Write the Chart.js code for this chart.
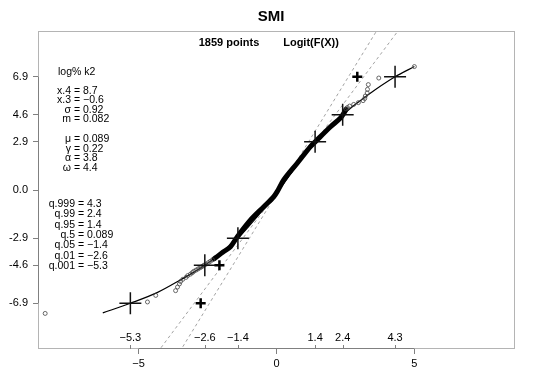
<!DOCTYPE html>
<html>
<head>
<meta charset="utf-8">
<script src="https://cdn.jsdelivr.net/npm/chart.js@4/dist/chart.umd.min.js"></script>
<style>
html,body{margin:0;padding:0;background:#fff;}
#wrap{width:533px;height:378px;position:relative;}
</style>
</head>
<body>
<div id="wrap"><canvas id="c"></canvas></div>
<script>
// ---- data ----
const titleText = 'SMI';
const subLeft = '1859 points';
const subRight = 'Logit(F(X))';

const xTickVals = [-5, 0, 5];
const xTickLabels = ['\u22125', '0', '5'];
const yTickVals = [-6.907, -4.595, -2.944, 0, 2.944, 4.595, 6.907];
const yTickLabels = ['-6.9', '-4.6', '-2.9', '0.0', '2.9', '4.6', '6.9'];

// quantile markers (big crosses) and their inner x labels
const quantX = [-5.3, -2.6, -1.4, 1.4, 2.4, 4.3];
const quantY = [-6.907, -4.595, -2.944, 2.944, 4.595, 6.907];
const quantLabels = ['\u22125.3', '\u22122.6', '\u22121.4', '1.4', '2.4', '4.3'];

// small bold crosses
const smallPlusX = [-2.75, -2.07, 2.93];
const smallPlusY = [-6.907, -4.595, 6.907];

// fitted curve
const fitX = [-6.30, -5.30, -4.33, -3.50, -2.60, -2.00, -1.40, -0.70, 0.089, 0.75, 1.40, 1.90, 2.40, 3.30, 4.30, 5.00];
const fitY = [-7.50, -6.907, -6.26, -5.50, -4.595, -3.82, -2.944, -1.62, 0.00, 1.55, 2.944, 3.82, 4.595, 5.78, 6.907, 7.53];

// tail observations (open circles)
const tailX = [-8.39, -4.68, -4.38, -3.66, -3.59, -3.52, -3.48, -3.40, -3.28, -3.22, -3.12, -3.05, -3.00, -2.92, -2.85, -2.78, -2.72, -2.66, -2.62, -2.55, -2.47, -2.40, -2.32,
               2.52, 2.57, 2.65, 2.80, 2.97, 3.14, 3.20, 3.22, 3.29, 3.30, 3.33, 3.71, 5.00];
const tailY = [-7.53, -6.83, -6.43, -6.14, -5.92, -5.73, -5.58, -5.45, -5.33, -5.22, -5.13, -5.04, -4.96, -4.89, -4.82, -4.75, -4.69, -4.63, -4.58, -4.52, -4.43, -4.35, -4.26,
               4.95, 5.03, 5.12, 5.22, 5.33, 5.45, 5.58, 5.73, 5.92, 6.14, 6.43, 6.83, 7.53];

// dense central observations (drawn as a thick band)
const bandX = [-2.26, -2.20, -1.95, -1.67, -1.42, -0.94, -0.46, -0.10, 0.025, 0.26, 0.75, 1.23, 1.47, 1.96, 2.32, 2.45, 2.52];
const bandY = [-4.19, -4.12, -3.80, -3.46, -2.85, -1.83, -1.02, -0.41, -0.10, 0.61, 1.63, 2.64, 3.05, 3.86, 4.39, 4.70, 4.92];

// reference dashed lines
const dashAX = [-4.58, 4.76];
const dashAY = [-10.5, 10.5];
const dashBX = [-3.74, 3.92];
const dashBY = [-10.5, 10.5];

// text blocks
const block1Head = 'log% k2';
const block1Names = ['x.4', 'x.3', '\u03c3', 'm', '\u03bc', '\u03b3', '\u03b1', '\u03c9'];
const block1Vals = ['8.7', '\u22120.6', '0.92', '0.082', '0.089', '0.22', '3.8', '4.4'];
const block2Names = ['q.999', 'q.99', 'q.95', 'q.5', 'q.05', 'q.01', 'q.001'];
const block2Vals = ['4.3', '2.4', '1.4', '0.089', '\u22121.4', '\u22122.6', '\u22125.3'];

// ---- build ----
const pts = (xs, ys) => xs.map((x, i) => ({x: x, y: ys[i]}));
const FONT = '"Liberation Sans", Arial, Helvetica, sans-serif';

const textPlugin = {
  id: 'texts',
  afterDraw(chart) {
    const ctx = chart.ctx;
    const a = chart.chartArea;
    const xs = chart.scales.x, ys = chart.scales.y;
    ctx.save();
    // box
    ctx.strokeStyle = '#b4b4b4';
    ctx.lineWidth = 1;
    ctx.strokeRect(a.left + 0.5, a.top + 0.5, a.right - a.left - 1, a.bottom - a.top - 1);
    // axis lines spanning the ticks
    ctx.strokeStyle = '#808080';
    ctx.beginPath();
    const yt = ys.getPixelForValue(yTickVals[yTickVals.length - 1]);
    const yb = ys.getPixelForValue(yTickVals[0]);
    ctx.moveTo(a.left + 0.5, yt); ctx.lineTo(a.left + 0.5, yb);
    const xl = xs.getPixelForValue(xTickVals[0]);
    const xr = xs.getPixelForValue(xTickVals[xTickVals.length - 1]);
    ctx.moveTo(xl, a.bottom - 0.5); ctx.lineTo(xr, a.bottom - 0.5);
    // inner quantile ticks
    quantX.forEach(v => {
      const p = Math.round(xs.getPixelForValue(v)) + 0.5;
      ctx.moveTo(p, a.bottom); ctx.lineTo(p, a.bottom - 4);
    });
    ctx.stroke();

    ctx.fillStyle = '#000';
    ctx.textBaseline = 'middle';
    // title
    ctx.font = 'bold 15px ' + FONT;
    ctx.textAlign = 'center';
    ctx.fillText(titleText, 271, 17);
    ctx.font = 'bold 11px ' + FONT;
    ctx.fillText(subLeft, 229, 43);
    ctx.fillText(subRight, 311, 43);
    // inner quantile labels
    ctx.font = '11px ' + FONT;
    quantX.forEach((v, i) => {
      ctx.fillText(quantLabels[i], xs.getPixelForValue(v), a.bottom - 11);
    });
    // block 1
    ctx.font = '10.5px ' + FONT;
    ctx.textAlign = 'left';
    ctx.fillText(block1Head, 58, 72);
    const b1y = [91, 100.5, 110, 119.5, 139.5, 149, 158.5, 168];
    const eq1 = 77;
    const gap = 6;
    block1Names.forEach((n, i) => {
      ctx.textAlign = 'right';
      ctx.fillText(n, eq1 - gap, b1y[i]);
      ctx.textAlign = 'center';
      ctx.fillText('=', eq1, b1y[i]);
      ctx.textAlign = 'left';
      ctx.fillText(block1Vals[i], eq1 + gap, b1y[i]);
    });
    // block 2
    const eq2 = 81;
    block2Names.forEach((n, i) => {
      const y = 204 + i * 10.4;
      ctx.textAlign = 'right';
      ctx.fillText(n, eq2 - gap, y);
      ctx.textAlign = 'center';
      ctx.fillText('=', eq2, y);
      ctx.textAlign = 'left';
      ctx.fillText(block2Vals[i], eq2 + gap, y);
    });
    ctx.restore();
  }
};

new Chart(document.getElementById('c'), {
  type: 'scatter',
  data: {
    datasets: [
      { label: 'q', data: pts(quantX, quantY), pointStyle: 'cross', pointRadius: 11, pointBorderWidth: 1.5,
        borderColor: '#111', backgroundColor: '#111', showLine: false },
      { label: 'sp', data: pts(smallPlusX, smallPlusY), pointStyle: 'cross', pointRadius: 5, pointBorderWidth: 2.5,
        borderColor: '#000', backgroundColor: '#000', showLine: false },
      { label: 'tail', data: pts(tailX, tailY), pointStyle: 'circle', pointRadius: 2, pointBorderWidth: 0.8,
        borderColor: '#444', backgroundColor: 'rgba(0,0,0,0)', showLine: false },
      { label: 'fit', data: pts(fitX, fitY), showLine: true, borderColor: '#000', borderWidth: 1.2,
        pointRadius: 0, cubicInterpolationMode: 'monotone', fill: false },
      { label: 'band', data: pts(bandX, bandY), showLine: true, borderColor: '#000', borderWidth: 5,
        borderCapStyle: 'round', borderJoinStyle: 'round', pointRadius: 0, tension: 0.3, fill: false },
      { label: 'dA', data: pts(dashAX, dashAY), showLine: true, borderColor: '#8a8a8a', borderWidth: 0.8,
        borderDash: [3, 3], pointRadius: 0, clip: 0 },
      { label: 'dB', data: pts(dashBX, dashBY), showLine: true, borderColor: '#8a8a8a', borderWidth: 0.8,
        borderDash: [3, 3], pointRadius: 0, clip: 0 }
    ]
  },
  options: {
    responsive: true,
    maintainAspectRatio: false,
    animation: false,
    devicePixelRatio: 1,
    layout: { padding: { left: 0, right: 18, top: 31, bottom: 0 } },
    plugins: { legend: { display: false }, tooltip: { enabled: false }, title: { display: false } },
    scales: {
      x: {
        type: 'linear', min: -8.65, max: 8.65,
        afterBuildTicks: s => { s.ticks = xTickVals.map(v => ({value: v})); },
        afterFit: s => { s.height = 29; },
        ticks: { callback: (v) => xTickLabels[xTickVals.indexOf(v)], color: '#000',
                 font: { family: FONT, size: 11 }, padding: 3, maxRotation: 0, autoSkip: false },
        grid: { display: true, drawOnChartArea: false, drawTicks: true, tickLength: 5, color: '#808080' },
        border: { display: false }
      },
      y: {
        type: 'linear', min: -9.7, max: 9.7,
        afterBuildTicks: s => { s.ticks = yTickVals.map(v => ({value: v})); },
        afterFit: s => { s.width = 38; },
        ticks: { callback: (v) => yTickLabels[yTickVals.indexOf(v)], color: '#000',
                 font: { family: FONT, size: 11 }, padding: 5, autoSkip: false },
        grid: { display: true, drawOnChartArea: false, drawTicks: true, tickLength: 5, color: '#808080' },
        border: { display: false }
      }
    }
  },
  plugins: [textPlugin]
});
</script>
</body>
</html>
